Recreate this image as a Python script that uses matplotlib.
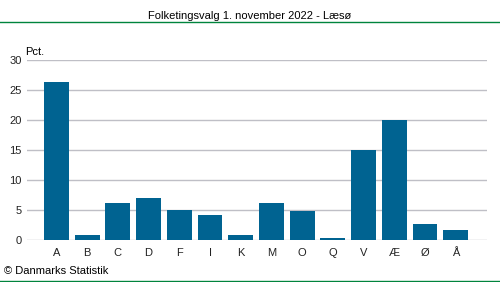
import matplotlib.pyplot as plt
from matplotlib.lines import Line2D

plt.rcParams.update({
    'font.family': ['Liberation Sans', 'DejaVu Sans'],
    'font.size': 8,
})

parties = ['A', 'B', 'C', 'D', 'F', 'I', 'K', 'M', 'O', 'Q', 'V', 'Æ', 'Ø', 'Å']
pct = [26.3, 0.9, 6.2, 7.0, 5.0, 4.2, 0.9, 6.2, 4.8, 0.3, 15.0, 20.0, 2.7, 1.7]
yticks = [0, 5, 10, 15, 20, 25, 30]

BAR_C = '#006391'
GRID_C = '#bfbfc6'
GREEN = '#00843d'

fig = plt.figure(figsize=(5, 2.82), dpi=100)
ax = fig.add_axes([0.054, 0.149, 0.92, 0.640])

x = range(len(parties))
ax.bar(x, pct, width=0.81, color=BAR_C, zorder=3)
ax.set_xlim(-0.96, 14.02)
ax.set_ylim(0, 30)
ax.set_yticks(yticks)
ax.set_xticks(list(x))
ax.set_xticklabels(parties)
ax.yaxis.grid(True, color=GRID_C, lw=1, zorder=0)
ax.tick_params(length=0, labelsize=8, colors='#222222')
ax.tick_params(axis='x', pad=6)
ax.tick_params(axis='y', pad=4)
for s in ax.spines.values():
    s.set_visible(False)
ax.set_axisbelow(True)

ax.text(-0.005, 1.015, 'Pct.', transform=ax.transAxes, ha='left', va='bottom', fontsize=8)

fig.text(0.5, 0.945, 'Folketingsvalg 1. november 2022 - Læsø', ha='center', va='center', fontsize=8)
fig.add_artist(Line2D([0, 1], [0.922, 0.922], transform=fig.transFigure, color=GREEN, lw=1))
fig.text(0.008, 0.04, '© Danmarks Statistik', ha='left', va='center', fontsize=8)
fig.add_artist(Line2D([0, 1], [0.003, 0.003], transform=fig.transFigure, color=GREEN, lw=1))

fig.savefig('out.png', dpi=100)
